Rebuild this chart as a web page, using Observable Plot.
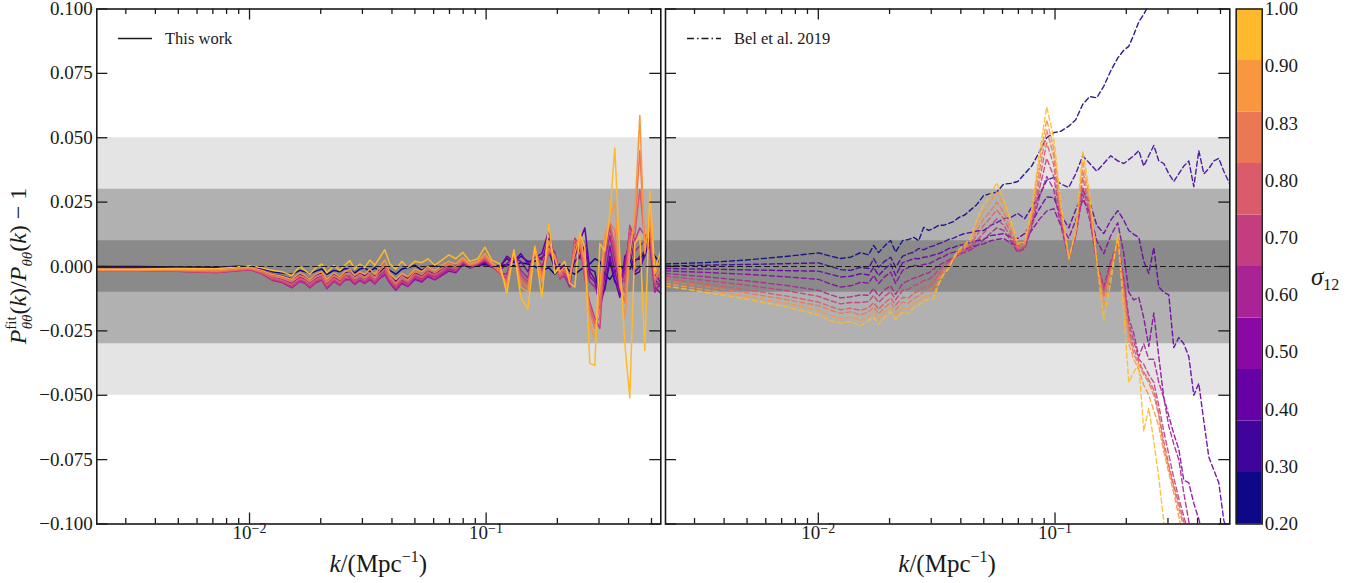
<!DOCTYPE html>
<html>
<head>
<meta charset="utf-8">
<script src="https://cdn.jsdelivr.net/npm/d3@7"></script>
<script src="https://cdn.jsdelivr.net/npm/@observablehq/plot@0.6"></script>
<style>
  html, body { margin: 0; padding: 0; background: #fff; }
  #fig { position: relative; width: 1368px; height: 583px; overflow: hidden; }
  #fig svg { position: absolute; left: 0; top: 0; background: transparent !important; }
  #fig svg, #fig svg text, #fig svg tspan { font-family: "Liberation Serif", "DejaVu Serif", serif !important; }
</style>
</head>
<body>
<div id="fig"></div>
<script>
// Wavenumbers k [Mpc^-1] shared by every curve
const kGrid = [
  0.002262, 0.00334, 0.00493, 0.00727, 0.01003, 0.01127, 0.01243, 0.01369, 0.01509, 0.01632, 0.01713, 0.01798,
  0.01906, 0.02021, 0.02122, 0.02272, 0.02408, 0.02528, 0.02654, 0.02786, 0.02925, 0.03071, 0.03224, 0.03385,
  0.03553, 0.03731, 0.03917, 0.04152, 0.04402, 0.04667, 0.04995, 0.05349, 0.05671, 0.06071, 0.06500, 0.06956,
  0.07446, 0.07970, 0.08532, 0.09223, 0.09874, 0.1057, 0.1143, 0.1223, 0.1310, 0.1402, 0.1501, 0.1607,
  0.1720, 0.1841, 0.1952, 0.2049, 0.2151, 0.2259, 0.2371, 0.2489, 0.2614, 0.2744, 0.2881, 0.3024,
  0.3174, 0.3333, 0.3499, 0.3674, 0.3857, 0.4049, 0.4251, 0.4463, 0.4685, 0.4919, 0.5164, 0.5474
];

// sigma_12 of each cosmology (colour bar labels)
const sigmaLabels = ["0.20", "0.30", "0.40", "0.50", "0.60", "0.70", "0.80", "0.83", "0.90", "1.00"];

// Axis ticks
const yTicks = [-0.1, -0.075, -0.05, -0.025, 0, 0.025, 0.05, 0.075, 0.1];
const xMajor = [0.01, 0.1];
const xExponents = ["\u22122", "\u22121"];
const xMinor = [0.003, 0.004, 0.005, 0.006, 0.007, 0.008, 0.009,
                0.02, 0.03, 0.04, 0.05, 0.06, 0.07, 0.08, 0.09,
                0.2, 0.3, 0.4, 0.5];

// Tolerance bands: +-5%, +-3%, +-1%
const bandHalfWidths = [0.05, 0.03, 0.01];

// P_fit / P - 1 for "This work", one array per sigma_12, in units of 1e-3
const work_s020 = [
  0.0, 0.0, -0.2, -0.3, 0.3, -0.8, -2.0, -2.5, -3.0, -1.5, -2.0, -2.8,
  -1.8, -1.0, -3.0, -1.5, -2.0, -0.8, -1.2, -2.5, -1.0, -0.5, -2.0, -0.5,
  -1.8, -0.5, -1.5, -3.0, -1.0, -0.5, 0.5, -1.5, 0.0, 0.3, -0.5, 0.0,
  0.5, 0.3, 1.0, 0.5, 0.8, 0.5, 0.2, 0.8, 0.2, 1.5, 1.0, 0.0,
  -1.5, -0.5, -3.0, -1.0, 0.5, -2.0, -3.0, -1.5, 0.0, 1.0, 3.0, 2.0,
  -3.0, -5.0, -2.0, 0.5, -1.5, -1.0, 2.5, 3.0, 5.0, 8.0, 4.0, 1.0
];
const work_s030 = [
  -0.3, -0.3, -0.5, -0.7, 0.0, -1.3, -3.0, -3.6, -4.8, -3.0, -3.6, -5.0,
  -3.4, -2.5, -5.0, -2.8, -4.0, -2.5, -2.5, -4.0, -2.8, -3.6, -2.6, -3.8,
  -2.4, -1.3, -3.8, -5.8, -3.8, -4.6, -2.4, -3.4, -1.8, -2.6, -1.3, -0.3,
  -0.6, 1.0, 0.3, 0.6, 1.2, 0.0, 0.2, 3.0, 1.5, 4.0, 2.0, 2.0,
  3.5, 6.0, -1.0, 1.0, -1.0, -3.5, 2.0, 4.0, 8.0, -1.0, -2.0, -12.0,
  -9.0, 2.0, -6.0, -8.0, 2.0, 3.0, -3.0, -2.0, 6.0, 9.0, -3.0, -6.0
];
const work_s040 = [
  -0.8, -0.8, -1.0, -1.4, -0.6, -2.0, -4.0, -4.8, -6.5, -4.3, -5.0, -6.6,
  -4.8, -3.8, -6.8, -4.2, -5.6, -3.8, -3.8, -5.5, -4.2, -5.2, -3.8, -5.4,
  -3.5, -2.2, -5.2, -7.6, -5.2, -6.4, -3.8, -4.8, -3.0, -4.0, -2.4, -1.0,
  -1.6, 1.0, -0.2, 0.6, 1.5, -0.3, -0.5, 4.0, 2.0, 5.0, 1.0, 3.5,
  5.0, 14.0, 1.0, 0.5, -2.0, -4.0, 4.0, 10.0, 15.0, -2.0, -5.0, -16.0,
  -8.0, 4.0, -5.0, -12.0, 4.0, 6.0, -2.0, 0.0, 4.0, 11.0, -5.0, -8.0
];
const work_s050 = [
  -1.2, -1.2, -1.5, -2.0, -1.0, -2.6, -5.0, -6.0, -8.0, -5.5, -6.2, -8.0,
  -6.0, -5.0, -8.3, -5.5, -7.0, -5.0, -5.0, -6.8, -5.3, -6.4, -5.0, -6.6,
  -4.6, -3.2, -6.4, -9.2, -6.5, -7.8, -5.0, -6.0, -4.0, -5.2, -3.4, -1.8,
  -2.4, 0.8, -0.6, 0.5, 1.8, -0.2, -1.5, 1.0, 3.5, 2.0, -2.0, 5.0,
  2.5, 11.0, 3.0, -1.0, -3.0, -6.0, 8.0, 3.0, 8.0, -4.0, -6.0, -14.0,
  -4.0, 8.0, -2.0, -10.0, 2.0, 10.0, 2.0, 4.0, 6.0, 14.0, -8.0, -10.5
];
const work_s060 = [
  -1.5, -1.5, -1.8, -2.3, -1.3, -2.8, -5.3, -6.2, -8.3, -5.8, -6.5, -8.3,
  -6.3, -5.3, -8.6, -5.8, -7.3, -5.3, -5.0, -7.0, -5.5, -6.6, -5.0, -6.8,
  -4.5, -3.0, -6.2, -9.0, -6.2, -7.6, -4.5, -5.6, -3.5, -5.0, -3.0, -1.2,
  -2.0, 1.3, -0.5, 0.8, 2.2, 0.0, -2.5, -3.0, 5.0, -1.5, -4.5, 6.5,
  -0.5, 8.0, 5.5, -4.0, -4.0, -8.0, 10.0, 6.0, 2.0, -6.0, -8.0, -12.0,
  2.0, 12.0, 2.0, -8.0, -2.0, 14.0, 6.0, 8.0, 10.0, 8.0, -10.0, -6.0
];
const work_s070 = [
  -1.6, -1.6, -1.8, -2.3, -1.2, -2.7, -5.0, -5.8, -7.8, -5.2, -6.0, -7.8,
  -5.8, -4.8, -8.0, -5.3, -6.8, -4.8, -4.3, -6.3, -4.8, -6.0, -4.3, -6.1,
  -3.8, -2.2, -5.6, -8.3, -5.6, -7.0, -3.8, -5.0, -2.8, -4.3, -2.3, -0.5,
  -1.5, 1.8, 0.0, 1.0, 2.6, 0.3, -2.8, -4.5, 5.5, -3.0, -6.0, 7.5,
  -2.0, 5.0, 5.0, -5.0, -3.0, -6.0, 11.0, 8.0, -5.0, -14.0, -20.0, -24.0,
  5.0, 15.0, 5.0, -4.0, -6.0, 16.0, 10.0, 15.0, 12.0, 12.0, -8.0, -4.0
];
const work_s080 = [
  -1.6, -1.6, -1.7, -2.1, -1.0, -2.4, -4.5, -5.3, -7.0, -4.5, -5.3, -7.0,
  -5.0, -4.0, -7.2, -4.5, -6.0, -4.0, -3.5, -5.5, -4.0, -5.2, -3.5, -5.3,
  -2.8, -1.0, -4.8, -7.5, -4.8, -6.2, -3.0, -4.2, -2.0, -3.5, -1.5, 0.2,
  -0.8, 2.2, 0.2, 1.2, 3.2, 0.6, -2.5, -5.5, 6.0, -4.5, -7.0, 8.0,
  -3.0, 6.0, 4.5, -4.0, -2.0, -5.5, 10.0, 9.0, -3.0, -16.0, -22.0, -20.0,
  8.0, 16.7, 8.0, -6.0, -10.0, 14.0, 12.0, 30.0, 10.0, 15.0, -6.0, -2.0
];
const work_s083 = [
  -1.5, -1.5, -1.5, -1.8, -0.7, -2.0, -3.8, -4.6, -6.0, -3.5, -4.5, -6.0,
  -4.0, -3.0, -6.2, -3.5, -5.0, -3.0, -2.5, -4.5, -3.0, -4.2, -2.5, -4.3,
  -1.5, 0.5, -3.8, -6.5, -3.8, -5.2, -2.0, -3.2, -1.0, -2.5, -0.5, 1.0,
  0.0, 2.8, 0.5, 1.5, 4.0, 1.0, -2.0, -6.5, 6.5, -6.0, -8.0, 8.2,
  -4.0, 7.0, 4.0, -3.0, -1.0, -5.0, 8.0, 11.0, -1.0, -18.0, -24.0, -14.0,
  10.0, 17.0, 14.0, -8.0, -14.0, 10.0, 16.0, 45.0, 8.0, 18.0, -5.0, 0.0
];
const work_s090 = [
  -1.3, -1.3, -1.2, -1.4, -0.3, -1.5, -3.0, -3.8, -5.0, -2.5, -3.5, -5.0,
  -3.0, -2.0, -5.0, -2.5, -4.0, -2.0, -1.0, -3.5, -2.0, -3.0, -1.0, -3.0,
  0.0, 2.5, -2.5, -5.0, -2.5, -4.0, -1.0, -2.0, 0.0, -1.5, 0.5, 2.0,
  1.0, 3.5, 1.0, 2.0, 5.0, 1.5, -1.0, -8.0, 6.0, -8.0, -10.0, 8.0,
  -6.0, 10.0, 3.0, -2.0, 0.0, -4.0, 5.0, 12.0, 2.0, -22.0, -28.0, -8.0,
  12.0, 18.0, 25.0, -5.0, -20.0, 5.0, 20.0, 58.6, 5.0, 22.0, -3.0, 3.0
];
const work_s100 = [
  -1.0, -1.0, -0.8, -0.9, 0.3, -0.5, -1.5, -2.0, -3.5, 0.0, -1.5, -3.0,
  -0.5, 1.0, -2.5, 0.5, -1.5, 0.5, 2.3, -1.0, 1.0, -0.5, 2.5, 0.5,
  3.5, 6.5, 1.0, -1.0, 2.0, -0.5, 2.0, 1.5, 3.0, 0.5, 2.5, 4.5,
  3.0, 5.5, 2.0, 3.0, 7.5, 2.5, 1.0, -10.5, 6.5, -12.0, -16.5, 7.5,
  -12.0, 16.5, -2.7, 0.0, 2.0, -6.6, -8.0, 13.0, 7.4, -37.7, -38.4, 8.9,
  6.0, 20.0, 46.0, 3.5, -30.0, -51.0, 9.0, 12.0, -32.6, 29.5, -1.6, 6.2
];

// P_fit / P - 1 for Bel et al. 2019, one array per sigma_12, in units of 1e-3
const bel_s020 = [
  1.0, 1.5, 2.5, 3.9, 5.3, 4.0, 3.1, 3.6, 5.4, 4.5, 8.2, 5.4,
  8.0, 10.1, 5.6, 10.1, 10.5, 11.3, 10.0, 15.2, 14.0, 14.8, 16.0, 16.0,
  16.7, 17.5, 19.0, 20.0, 22.0, 24.0, 27.6, 28.3, 28.9, 32.0, 32.3, 33.0,
  36.0, 39.0, 44.0, 50.0, 52.0, 52.5, 54.5, 57.0, 63.0, 66.0, 65.5, 70.0,
  76.0, 81.0, 84.0, 85.5, 90.0, 95.0, 98.0, 101.5, null, null, null, null,
  null, null, null, null, null, null, null, null, null, null, null, null
];
const bel_s030 = [
  0.2, 0.5, 0.8, 1.1, 1.4, 0.0, -1.2, -1.5, -0.3, -0.8, 3.1, -0.3,
  2.0, 3.6, -0.3, 4.0, 5.0, 5.5, 7.0, 6.5, 7.5, 8.0, 8.9, 9.5,
  10.5, 11.0, 12.0, 12.8, 13.2, 13.8, 14.0, 16.0, 17.0, 18.6, 19.0, 20.6,
  18.6, 23.0, 27.0, 33.5, 34.6, 32.0, 30.7, 36.0, 43.0, 40.0, 37.0, 40.0,
  43.0, 41.0, 40.0, 41.5, 43.0, 45.0, 39.0, 43.0, 47.0, 41.0, 40.0, 36.0,
  33.0, 36.0, 39.0, 41.0, 31.0, 45.0, 36.0, 38.0, 41.0, 42.0, 37.0, 32.0
];
const bel_s040 = [
  -0.8, -1.0, -1.3, -1.6, -1.8, -3.0, -4.1, -3.8, -2.8, -3.3, -0.3, -3.5,
  -1.0, 1.0, -3.5, 1.5, 2.3, 3.1, 3.0, 3.6, 3.8, 4.5, 5.0, 5.8,
  7.0, 7.4, 8.2, 8.6, 9.3, 10.0, 10.5, 12.0, 12.3, 12.8, 11.5, 10.9,
  12.8, 17.0, 22.0, 27.0, 26.8, 20.0, 15.0, 22.0, 29.5, 25.0, 16.0, 12.8,
  18.0, 21.7, 18.0, 14.0, 12.5, 11.3, 2.0, -2.7, 7.4, -8.0, -10.0, -11.0,
  -31.5, -27.6, -30.0, -35.0, -50.0, -45.4, -60.0, -74.0, -79.0, -84.0, -98.6, -106.0
];
const bel_s050 = [
  -1.7, -2.3, -3.0, -4.0, -5.0, -6.8, -8.0, -7.5, -6.1, -6.5, -3.5, -6.6,
  -4.0, -2.2, -6.6, -1.5, -0.3, 0.4, 0.2, 0.8, 1.0, 2.0, 3.1, 3.8,
  5.0, 5.5, 6.2, 6.8, 7.5, 8.2, 8.8, 10.0, 10.5, 10.9, 9.0, 8.2,
  10.0, 14.0, 18.0, 21.5, 22.5, 16.0, 11.0, 18.0, 26.0, 21.0, 10.0, 5.0,
  12.0, 17.0, 5.0, -10.0, -13.0, -12.0, -20.0, -31.0, -18.0, -35.0, -51.0, -58.0,
  -65.0, -71.0, -83.0, -84.0, -92.0, -98.0, -106.0, null, null, null, null, null
];
const bel_s060 = [
  -2.7, -4.0, -5.5, -7.3, -9.3, -11.0, -12.2, -11.8, -11.0, -11.2, -8.5, -11.5,
  -9.0, -7.5, -10.8, -6.5, -5.5, -4.5, -4.0, -3.0, -2.5, -1.0, 0.5, 1.5,
  2.5, 3.5, 4.5, 5.5, 6.5, 8.0, 10.5, 13.0, 15.0, 14.0, 10.0, 5.5,
  7.0, 15.0, 26.0, 35.0, 30.0, 16.0, 3.0, 12.0, 28.0, 18.0, 2.0, -8.0,
  2.0, 9.0, -5.0, -20.0, -26.0, -35.0, -30.0, -36.0, -36.0, -45.0, -51.0, -62.0,
  -69.0, -75.0, -88.0, -99.0, -108.0, null, null, null, null, null, null, null
];
const bel_s070 = [
  -3.7, -5.4, -7.2, -9.3, -11.6, -13.3, -14.5, -14.0, -14.0, -13.6, -11.2, -14.0,
  -11.6, -9.8, -12.9, -9.2, -8.8, -7.5, -6.8, -5.5, -5.0, -3.6, -1.2, 0.5,
  1.8, 3.3, 4.8, 6.0, 7.4, 10.0, 13.0, 16.0, 18.5, 16.0, 11.5, 6.2,
  7.5, 16.0, 29.0, 42.0, 35.0, 18.0, 3.0, 12.0, 31.0, 20.0, 2.0, -9.0,
  1.0, 9.5, -6.5, -22.0, -29.0, -36.0, -38.0, -42.0, -45.0, -54.0, -64.0, -73.0,
  -82.0, -90.0, -97.0, -104.0, null, null, null, null, null, null, null, null
];
const bel_s080 = [
  -4.7, -6.8, -9.0, -11.4, -13.8, -15.6, -16.8, -16.2, -17.0, -16.0, -14.0, -16.6,
  -14.2, -12.2, -15.0, -12.0, -12.2, -10.5, -9.5, -8.0, -7.6, -6.2, -3.0, -0.5,
  1.2, 3.2, 5.2, 6.6, 8.3, 12.0, 16.0, 19.0, 22.0, 18.5, 13.0, 7.0,
  8.0, 17.5, 32.0, 48.0, 39.5, 20.0, 3.0, 12.5, 34.5, 22.0, 2.0, -10.5,
  0.0, 10.0, -8.0, -24.0, -32.0, -37.0, -41.0, -44.0, -48.0, -57.0, -68.0, -77.0,
  -85.0, -92.0, -99.0, -107.0, null, null, null, null, null, null, null, null
];
const bel_s083 = [
  -5.6, -7.8, -10.2, -12.8, -15.2, -17.0, -18.2, -17.6, -18.8, -17.6, -15.8, -18.4,
  -16.0, -14.0, -16.8, -13.8, -14.2, -12.4, -11.4, -9.8, -9.4, -8.2, -4.5, -1.5,
  0.5, 3.0, 5.5, 7.0, 9.0, 14.0, 18.5, 21.5, 25.0, 21.0, 14.5, 7.5,
  8.5, 19.0, 35.5, 53.0, 43.0, 21.5, 3.0, 13.0, 37.5, 24.0, 2.0, -12.0,
  -1.0, 10.5, -10.0, -26.0, -34.0, -38.0, -42.0, -45.0, -50.0, -58.0, -70.0, -78.0,
  -86.0, -94.0, -101.0, -108.0, null, null, null, null, null, null, null, null
];
const bel_s090 = [
  -6.6, -9.0, -11.5, -14.2, -17.0, -19.0, -20.2, -19.6, -21.0, -19.5, -17.8, -20.5,
  -18.0, -16.0, -18.8, -16.0, -16.5, -14.3, -13.5, -11.8, -11.4, -10.5, -6.0, -2.5,
  -0.5, 3.0, 5.8, 7.6, 10.0, 16.0, 21.5, 25.0, 29.0, 24.0, 16.5, 8.5,
  9.0, 20.5, 39.0, 57.0, 46.0, 23.0, 3.0, 13.5, 41.0, 26.0, 2.0, -15.0,
  -3.0, 11.0, -12.0, -30.0, -36.0, -40.0, -46.0, -50.0, -56.0, -62.0, -72.0, -80.0,
  -88.0, -97.0, -106.0, null, null, null, null, null, null, null, null, null
];
const bel_s100 = [
  -7.6, -10.0, -12.6, -15.6, -18.8, -21.0, -22.0, -21.3, -23.0, -21.0, -19.7, -22.5,
  -19.8, -17.6, -20.5, -17.8, -18.3, -16.0, -15.1, -13.2, -12.8, -12.4, -7.0, -3.0,
  -0.8, 3.5, 6.5, 8.5, 11.0, 18.0, 24.0, 28.0, 32.5, 26.0, 18.0, 9.0,
  9.5, 22.0, 42.0, 62.0, 50.0, 25.0, 3.0, 14.0, 45.0, 28.0, 2.0, -21.0,
  -6.0, 12.5, -18.0, -45.0, -41.0, -38.0, -64.0, -55.0, -68.0, -82.0, -99.0, -108.0,
  null, null, null, null, null, null, null, null, null, null, null, null
];

const workSeries = [work_s020, work_s030, work_s040, work_s050, work_s060, work_s070, work_s080, work_s083, work_s090, work_s100];
const belSeries = [bel_s020, bel_s030, bel_s040, bel_s050, bel_s060, bel_s070, bel_s080, bel_s083, bel_s090, bel_s100];

// Long-format rows for Plot (values converted from 1e-3 units)
function tidy(series) {
  return series.flatMap((vals, i) => vals.map((v, j) => ({
    k: kGrid[j],
    dev: v == null ? NaN : v / 1000,
    sigma: sigmaLabels[i]
  })));
}

// ---- layout & style ----
const W = 1368, H = 583;
const TOP = 8.5, BOTTOM = 523.5;
const FONT = "Liberation Serif";
const INK = "#1a1a1a";
const bandFills = ["#e4e4e4", "#b1b1b1", "#8a8a8a"];
const palette = sigmaLabels.map((_, i) => d3.interpolatePlasma(i * 0.85 / (sigmaLabels.length - 1)));
const kDomain = [kGrid[0], kGrid[kGrid.length - 1]];

function panel({x0, x1, series, dash, lineWidth, opacity, yLabels}) {
  const fw = x1 - x0, fh = BOTTOM - TOP;
  const tick = {stroke: INK, strokeWidth: 1.3};
  return Plot.plot({
    width: W, height: H,
    marginLeft: x0, marginRight: W - x1, marginTop: TOP, marginBottom: H - BOTTOM,
    style: {background: "transparent", fontFamily: FONT, overflow: "visible", color: INK},
    x: {type: "log", domain: kDomain, axis: null},
    y: {domain: [-0.1, 0.1], axis: null},
    color: {type: "ordinal", domain: sigmaLabels, range: palette},
    marks: [
      ...bandHalfWidths.map((h, i) =>
        Plot.rect([h], {x1: kDomain[0], x2: kDomain[1], y1: d => -d, y2: d => d, fill: bandFills[i]})),
      Plot.line(tidy(series), {
        x: "k", y: "dev", z: "sigma", stroke: "sigma",
        strokeWidth: lineWidth, strokeDasharray: dash, strokeOpacity: opacity, clip: true
      }),
      Plot.ruleY([0], {stroke: INK, strokeDasharray: "6,3", strokeWidth: 1.2}),
      // inward ticks on all four sides
      Plot.tickY(yTicks, {y: d => d, insetRight: fw - 11, ...tick}),
      Plot.tickY(yTicks, {y: d => d, insetLeft: fw - 11, ...tick}),
      Plot.tickX(xMajor, {x: d => d, insetTop: fh - 11, ...tick}),
      Plot.tickX(xMajor, {x: d => d, insetBottom: fh - 11, ...tick}),
      Plot.tickX(xMinor, {x: d => d, insetTop: fh - 5.5, ...tick}),
      Plot.tickX(xMinor, {x: d => d, insetBottom: fh - 5.5, ...tick}),
      Plot.frame({stroke: INK, strokeWidth: 1.6}),
      // decade labels 10^n
      Plot.text(xMajor, {x: d => d, frameAnchor: "bottom", text: () => "10", textAnchor: "end",
                         dx: 2, dy: 15, fontSize: 19, fill: INK}),
      Plot.text(xMajor, {x: d => d, frameAnchor: "bottom", text: (d, i) => xExponents[i], textAnchor: "start",
                         dx: 2, dy: 8.5, fontSize: 14, fill: INK}),
      ...(yLabels ? [Plot.axisY(yTicks, {anchor: "left", tickSize: 0, tickPadding: 4, fontSize: 19,
                                         tickFormat: d3.format(".3f"), label: null})] : [])
    ]
  });
}

function addXLabel(svg, cx) {
  const t = d3.select(svg).append("text")
    .attr("x", cx).attr("y", 572).attr("text-anchor", "middle")
    .attr("font-size", 25).attr("fill", INK);
  t.append("tspan").attr("font-style", "italic").text("k");
  t.append("tspan").text("/(Mpc");
  t.append("tspan").attr("font-size", 16).attr("dy", -10).text("\u22121");
  t.append("tspan").attr("dy", 10).text(")");
}

function addLegend(svg, xa, xb, label, dash) {
  const g = d3.select(svg).append("g");
  g.append("line").attr("x1", xa).attr("x2", xb).attr("y1", 38.5).attr("y2", 38.5)
    .attr("stroke", INK).attr("stroke-width", 1.5).attr("stroke-dasharray", dash);
  g.append("text").attr("x", xb + 13).attr("y", 44).attr("text-anchor", "start")
    .attr("font-size", 16.5).attr("fill", INK).text(label);
}

const fig = document.getElementById("fig");

// Left panel: this work (solid)
const left = panel({x0: 96.3, x1: 660.3, series: workSeries, dash: null, lineWidth: 1.5, opacity: 1, yLabels: true});
fig.append(left);
addXLabel(left, 378.3);
addLegend(left, 118, 152, "This work", null);
{
  const t = d3.select(left).append("text")
    .attr("transform", "translate(26,266) rotate(-90)")
    .attr("text-anchor", "middle").attr("font-size", 24).attr("fill", INK);
  t.append("tspan").attr("font-style", "italic").text("P");
  t.append("tspan").attr("font-size", 15).attr("dy", -10).text("fit");
  t.append("tspan").attr("font-size", 15).attr("font-style", "italic").attr("dx", -13).attr("dy", 16).text("\u03b8\u03b8");
  t.append("tspan").attr("dy", -6).text("(");
  t.append("tspan").attr("font-style", "italic").text("k");
  t.append("tspan").text(")/");
  t.append("tspan").attr("font-style", "italic").text("P");
  t.append("tspan").attr("font-size", 15).attr("font-style", "italic").attr("dy", 6).text("\u03b8\u03b8");
  t.append("tspan").attr("dy", -6).text("(");
  t.append("tspan").attr("font-style", "italic").text("k");
  t.append("tspan").text(") \u2212 1");
}

// Right panel: Bel et al. 2019 (dashed)
const right = panel({x0: 665, x1: 1229.3, series: belSeries, dash: "5,3", lineWidth: 1.4, opacity: 0.9, yLabels: false});
fig.append(right);
addXLabel(right, 947.1);
addLegend(right, 687, 721, "Bel et al. 2019", "7,3,1.5,3");

// Colour bar for sigma_12
const cbTicks = sigmaLabels.map((_, i) => i / (sigmaLabels.length - 1));
const cbar = Plot.plot({
  width: W, height: H,
  marginLeft: 1235.7, marginRight: W - 1261.7, marginTop: TOP, marginBottom: H - BOTTOM,
  style: {background: "transparent", fontFamily: FONT, overflow: "visible", color: INK},
  x: {domain: [0, 1], axis: null},
  y: {domain: [0, 1], axis: null},
  color: {type: "ordinal", domain: sigmaLabels, range: palette},
  marks: [
    Plot.rect(sigmaLabels, {x1: 0, x2: 1,
      y1: (d, i) => i / sigmaLabels.length, y2: (d, i) => (i + 1) / sigmaLabels.length, fill: d => d}),
    Plot.frame({stroke: INK, strokeWidth: 1.5}),
    Plot.axisY(cbTicks, {anchor: "right", tickSize: 0, tickPadding: 2.5, fontSize: 19, label: null,
      tickFormat: d => sigmaLabels[Math.round(d * (sigmaLabels.length - 1))]})
  ]
});
fig.append(cbar);
{
  const t = d3.select(cbar).append("text").attr("x", 1311).attr("y", 285).attr("text-anchor", "start")
    .attr("font-size", 25).attr("fill", INK);
  t.append("tspan").attr("font-style", "italic").text("\u03c3");
  t.append("tspan").attr("font-size", 16).attr("dy", 5).text("12");
}
</script>
</body>
</html>
